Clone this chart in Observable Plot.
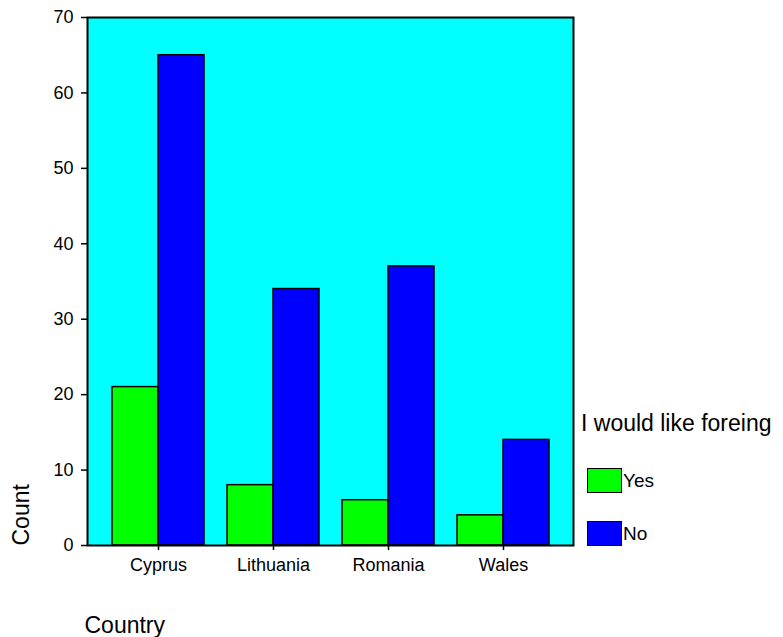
<!DOCTYPE html>
<html>
<head>
<meta charset="utf-8">
<script src="https://cdn.jsdelivr.net/npm/d3@7"></script>
<script src="https://cdn.jsdelivr.net/npm/@observablehq/plot@0.6"></script>
<style>
  html, body { margin: 0; padding: 0; background: white; }
  #wrap { position: relative; width: 783px; height: 637px; font-family: "Liberation Sans", Arial, sans-serif; color: black; }
  #wrap svg { position: absolute; left: 0; top: 0; }
  #wrap svg g[aria-label="y-axis tick"], #wrap svg g[aria-label="x-axis tick"] { stroke-width: 1.5; }
  .lg-title { position: absolute; left: 581px; top: 412px; font-size: 23px; line-height: 23px; white-space: nowrap; }
  .lg-item { position: absolute; left: 587px; height: 25px; display: flex; align-items: center; font-size: 19px; white-space: nowrap; }
  .lg-sw { width: 35px; height: 25px; box-sizing: border-box; border: 1.5px solid black; margin-right: 1px; }
</style>
</head>
<body>
<div id="wrap"></div>
<script>
const countries = ["Cyprus", "Lithuania", "Romania", "Wales"];
const answers = ["Yes", "No"];
const yesCounts = [21, 8, 6, 4];
const noCounts = [65, 34, 37, 14];
const answerColors = ["#00ff00", "#0000ff"];
const yTicks = [0, 10, 20, 30, 40, 50, 60, 70];
const xTitle = "Country";
const yTitle = "Count";
const legendTitle = "I would like foreing";

const yesData = countries.map((c, i) => ({country: c, answer: "Yes", count: yesCounts[i]}));
const noData = countries.map((c, i) => ({country: c, answer: "No", count: noCounts[i]}));

function makeChart(half) {
  return Plot.plot({
    width: 783,
    height: 637,
    marginTop: 17,
    marginBottom: 92,
    marginLeft: 87,
    marginRight: 210,
    style: {fontFamily: "'Liberation Sans', Arial, sans-serif", fontSize: "18px", background: "transparent", color: "black", overflow: "visible"},
    x: {domain: countries, paddingInner: 0.2, paddingOuter: 0.2, tickSize: 5, tickPadding: 8, label: null},
    y: {domain: [0, 70], ticks: yTicks, tickSize: 6, tickPadding: 8, label: null},
    color: {domain: answers, range: answerColors},
    marks: [
      Plot.frame({fill: "#00ffff"}),
      Plot.barY(yesData, {x: "country", y: "count", fill: "answer", stroke: "black", strokeWidth: 1.5, insetRight: half}),
      Plot.barY(noData, {x: "country", y: "count", fill: "answer", stroke: "black", strokeWidth: 1.5, insetLeft: half}),
      Plot.frame({stroke: "black", strokeWidth: 2}),
      Plot.text([yTitle], {frameAnchor: "bottom-left", rotate: -90, textAnchor: "start", lineAnchor: "middle", dx: -66, fontSize: 23}),
      Plot.text([xTitle], {frameAnchor: "bottom-left", textAnchor: "start", lineAnchor: "middle", dx: -3, dy: 80, fontSize: 23})
    ]
  });
}

// first pass to read the band width from the library's x scale
const probe = makeChart(0);
const bw = probe.scale("x").bandwidth;
const chart = makeChart(bw / 2);

const wrap = document.getElementById("wrap");
wrap.appendChild(chart);

const t = document.createElement("div");
t.className = "lg-title";
t.textContent = legendTitle;
wrap.appendChild(t);
const tops = [468, 521];
answers.forEach((a, i) => {
  const item = document.createElement("div");
  item.className = "lg-item";
  item.style.top = tops[i] + "px";
  const sw = document.createElement("div");
  sw.className = "lg-sw";
  sw.style.background = answerColors[i];
  const lab = document.createElement("span");
  lab.textContent = a;
  item.appendChild(sw);
  item.appendChild(lab);
  wrap.appendChild(item);
});
</script>
</body>
</html>
